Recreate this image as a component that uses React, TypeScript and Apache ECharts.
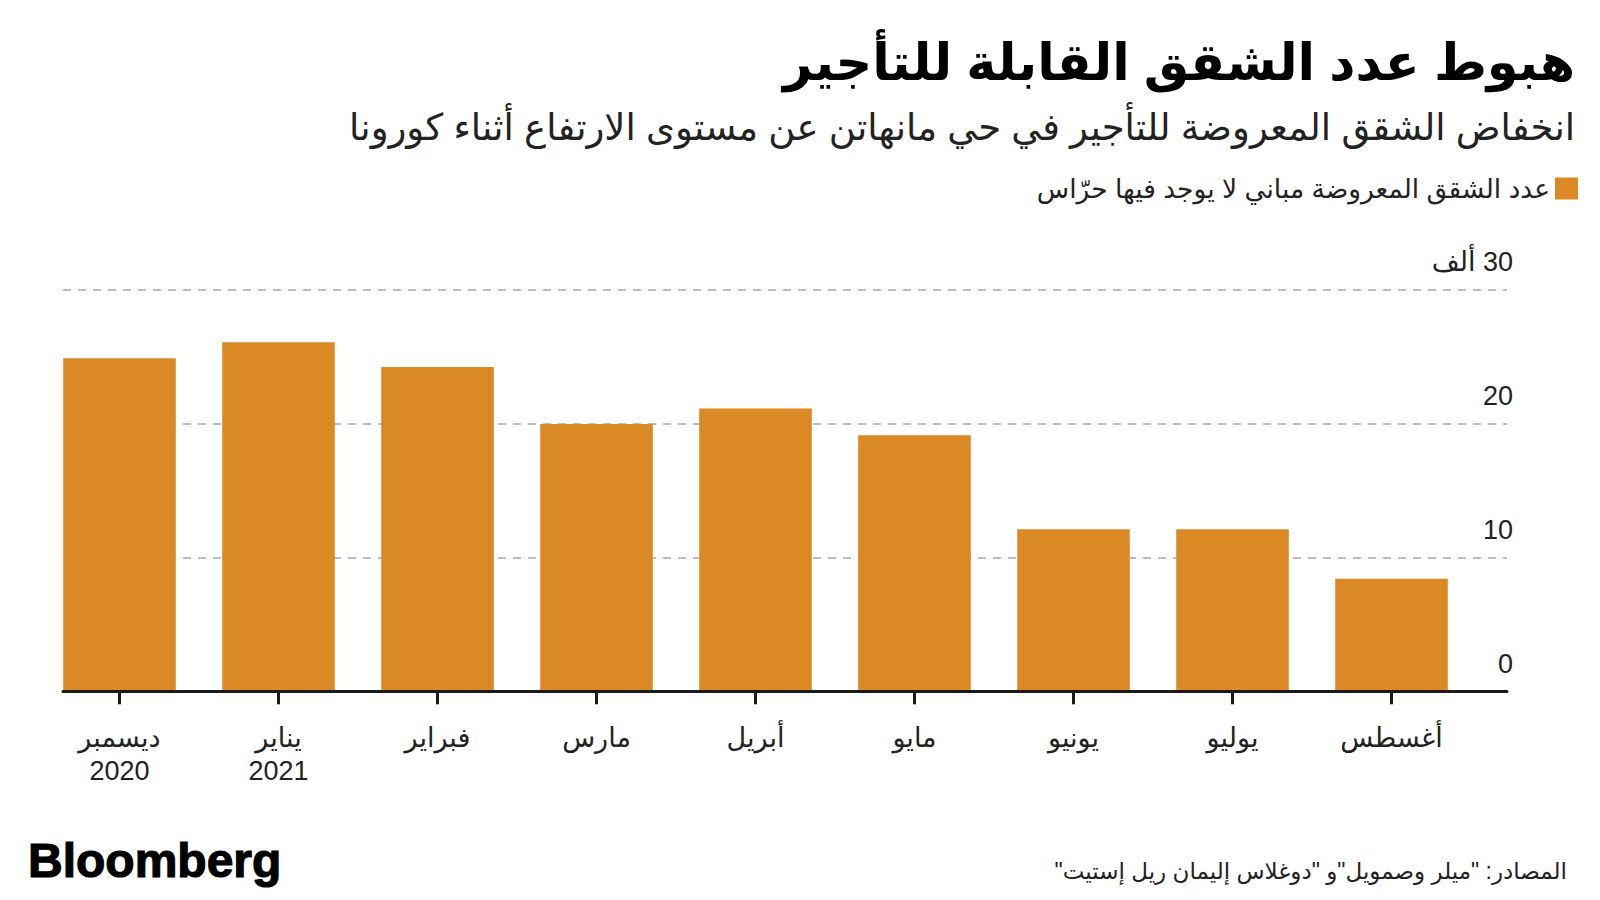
import React, { useEffect, useRef } from "react";
import * as echarts from "echarts";

const titleText = "هبوط عدد الشقق القابلة للتأجير";
const subtitleText = "انخفاض الشقق المعروضة للتأجير في حي مانهاتن عن مستوى الارتفاع أثناء كورونا";
const seriesName = "عدد الشقق المعروضة مباني لا يوجد فيها حرّاس";
const sourceText = "\u200Fالمصادر: \"ميلر وصمويل\"و \"دوغلاس إليمان ريل إستيت\"\u200F";
const brandText = "Bloomberg";

const months = [
  "ديسمبر\n2020",
  "يناير\n2021",
  "فبراير",
  "مارس",
  "أبريل",
  "مايو",
  "يونيو",
  "يوليو",
  "أغسطس",
];
const listings = [24.85, 26.05, 24.2, 19.95, 21.1, 19.1, 12.1, 12.1, 8.4];

const yTicks = [0, 10, 20, 30];
const yTickLabels = ["0", "10", "20", "\u200F30 ألف"];

const BAR = "#DA8924";
const INK = "#1a1a1a";
const FONT = "'Liberation Sans', 'DejaVu Sans', sans-serif";

export default function App() {
  const ref = useRef<HTMLDivElement>(null);

  useEffect(() => {
    if (!ref.current) return;
    const chart = echarts.init(ref.current, null, { renderer: "svg" });
    const top = 289.3;
    const bottom = 900 - 691.3;
    chart.setOption({
      animation: false,
      backgroundColor: "#ffffff",
      textStyle: { fontFamily: FONT },
      legend: {
        data: [seriesName],
        right: 22,
        top: 175,
        padding: 0,
        align: "right",
        icon: "rect",
        itemWidth: 23,
        itemHeight: 22,
        itemGap: 6,
        selectedMode: false,
        textStyle: { fontSize: 26.5, color: "#222", fontFamily: FONT },
      },
      grid: [
        { left: 40, right: 129, top, bottom },
        { left: 63, right: 93, top, bottom },
      ],
      xAxis: [
        {
          type: "category",
          gridIndex: 0,
          data: months,
          axisLine: { show: false },
          axisTick: {
            show: true,
            alignWithLabel: true,
            length: 13,
            lineStyle: { color: INK, width: 3 },
          },
          axisLabel: {
            fontSize: 27,
            color: "#222",
            margin: 30,
            lineHeight: 33,
            fontFamily: FONT,
          },
        },
        {
          type: "value",
          gridIndex: 1,
          min: 0,
          max: 1,
          z: 5,
          axisLine: { show: true, onZero: false, lineStyle: { color: INK, width: 3 } },
          axisTick: { show: false },
          axisLabel: { show: false },
          splitLine: { show: false },
        },
      ],
      yAxis: [
        { type: "value", gridIndex: 0, min: 0, max: 30, interval: 10, show: false },
        {
          type: "value",
          gridIndex: 1,
          position: "right",
          min: 0,
          max: 30,
          interval: 10,
          axisLine: { show: false },
          axisTick: { show: false },
          splitLine: {
            show: true,
            lineStyle: { color: "#a8a8a8", width: 1.5, type: [8, 7] },
          },
          axisLabel: {
            show: true,
            align: "right",
            verticalAlign: "bottom",
            margin: 6,
            padding: [0, 0, 14, 0],
            fontSize: 27,
            color: "#222",
            fontFamily: FONT,
            formatter: (v: number) => {
              const i = yTicks.indexOf(v);
              return i >= 0 ? yTickLabels[i] : String(v);
            },
          },
        },
      ],
      series: [
        {
          name: seriesName,
          type: "bar",
          xAxisIndex: 0,
          yAxisIndex: 0,
          data: listings,
          barWidth: "70.8%",
          itemStyle: { color: BAR },
          z: 2,
        },
      ],
      graphic: [
        {
          type: "text",
          x: 1575,
          y: 62,
          style: {
            text: titleText,
            fill: "#000",
            fontSize: 51,
            fontWeight: "bold",
            fontFamily: FONT,
            align: "right",
            verticalAlign: "middle",
          },
        },
        {
          type: "text",
          x: 1575,
          y: 127,
          style: {
            text: subtitleText,
            fill: "#222",
            fontSize: 37,
            fontFamily: FONT,
            align: "right",
            verticalAlign: "middle",
          },
        },
        {
          type: "text",
          x: 28,
          y: 860,
          style: {
            text: brandText,
            fill: "#000",
            stroke: "#000",
            lineWidth: 1.2,
            fontSize: 48,
            fontWeight: "bold",
            fontFamily: "'Liberation Sans', Arial, sans-serif",
            align: "left",
            verticalAlign: "middle",
          },
        },
        {
          type: "text",
          x: 1567,
          y: 871,
          style: {
            text: sourceText,
            fill: "#222",
            fontSize: 23,
            fontFamily: FONT,
            align: "right",
            verticalAlign: "middle",
          },
        },
      ],
    });
    return () => chart.dispose();
  }, []);

  return (
    <div
      ref={ref}
      style={{ position: "absolute", left: 0, top: 0, width: 1600, height: 900 }}
    />
  );
}
